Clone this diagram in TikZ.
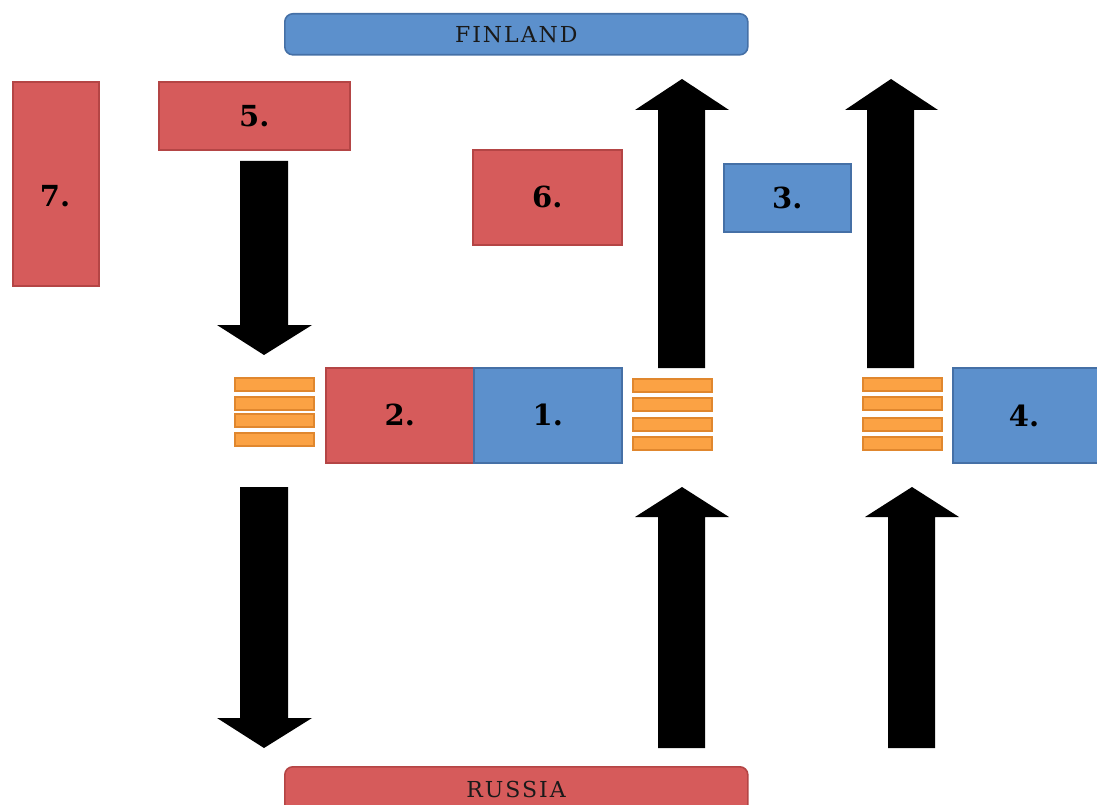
\documentclass[tikz,border=0pt]{standalone}
\usepackage{fontspec}
\setmainfont{DejaVu Serif}
\definecolor{rfill}{HTML}{D65B5B}
\definecolor{rdraw}{HTML}{B44545}
\definecolor{bfill}{HTML}{5C90CC}
\definecolor{bdraw}{HTML}{4570A6}
\definecolor{ofill}{HTML}{FBA244}
\definecolor{odraw}{HTML}{E0872E}
\definecolor{ctext}{HTML}{1A1A1A}
\begin{document}
\begin{tikzpicture}[x=1pt,y=-1pt,
  labelfont/.style={font=\bfseries\fontsize{29}{31}\selectfont},
  box/.style={anchor=north west,inner sep=0pt,line width=1.6pt,labelfont},
  redbox/.style={box,fill=rfill,draw=rdraw},
  bluebox/.style={box,fill=bfill,draw=bdraw},
  cfont/.style={text=ctext,font=\fontsize{22}{24}\selectfont\addfontfeature{LetterSpace=9}},
  country/.style={anchor=north west,inner sep=0pt,line width=1.6pt,rounded corners=8pt,cfont},
  bar/.style={anchor=north west,inner sep=0pt,fill=ofill,draw=odraw,line width=1.6pt,minimum width=79pt,minimum height=13pt},
  blockarrow/.style={fill=black}]
\useasboundingbox (0,0) rectangle (1097,805);
% countries
\node[country,fill=bfill,draw=bdraw,minimum width=463pt,minimum height=41pt] (fin) at (284,13) {FINLAND};
\node[country,fill=rfill,draw=rdraw,minimum width=463pt,minimum height=50pt] (rus) at (284,766) {};
\node[cfont] (rustxt) at (516,789) {RUSSIA};
% boxes
\node[redbox,minimum width=86pt,minimum height=204pt] (n7) at (12,81) {};
\node[labelfont] (n7t) at (55,196) {7.};
\node[redbox,minimum width=191pt,minimum height=68pt] (n5) at (158,81) {5.};
\node[redbox,minimum width=149pt,minimum height=95pt] (n6) at (472,149) {6.};
\node[bluebox,minimum width=127pt,minimum height=68pt] (n3) at (723,163) {3.};
\node[redbox,minimum width=148pt,minimum height=95pt] (n2) at (325,367) {2.};
\node[bluebox,minimum width=148pt,minimum height=95pt] (n1) at (473,367) {1.};
\node[bluebox,minimum width=160pt,minimum height=95pt] (n4) at (952,367) {};
\node[labelfont] (n4t) at (1024,416) {4.};
% orange bar stacks
\foreach \y [count=\i] in {377,396,413,432} \node[bar] (la\i) at (234,\y) {};
\foreach \y [count=\i] in {378,397,417,436} \node[bar] (ma\i) at (632,\y) {};
\foreach \y [count=\i] in {377,396,417,436} \node[bar] (ra\i) at (862,\y) {};
% block arrows (down)
\fill[blockarrow] (240,161) -- (288,161) -- (288,325) -- (312,325) -- (264,355) -- (217,325) -- (240,325) -- cycle;
\fill[blockarrow] (240,487) -- (288,487) -- (288,718) -- (312,718) -- (264,748) -- (217,718) -- (240,718) -- cycle;
% block arrows (up)
\fill[blockarrow] (658,368) -- (705,368) -- (705,110) -- (729,110) -- (682,79) -- (635,110) -- (658,110) -- cycle;
\fill[blockarrow] (867,368) -- (914,368) -- (914,110) -- (938,110) -- (891,79) -- (845,110) -- (867,110) -- cycle;
\fill[blockarrow] (658,748) -- (705,748) -- (705,517) -- (729,517) -- (682,487) -- (635,517) -- (658,517) -- cycle;
\fill[blockarrow] (888,748) -- (935,748) -- (935,517) -- (959,517) -- (912,487) -- (865,517) -- (888,517) -- cycle;
\end{tikzpicture}
\end{document}
